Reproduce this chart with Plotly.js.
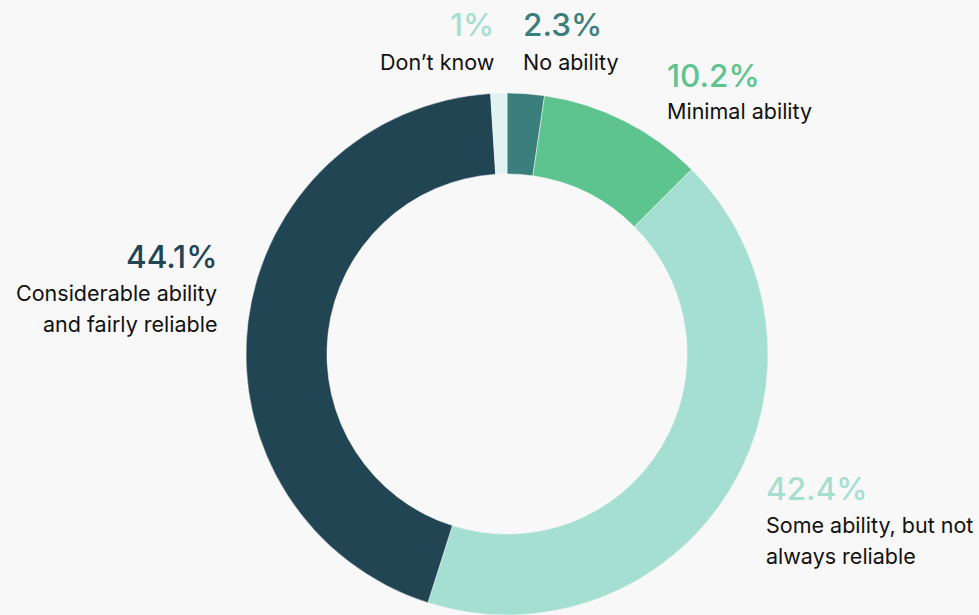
<!DOCTYPE html>
<html>
<head>
<meta charset="utf-8">
<script src="https://cdn.plot.ly/plotly-3.0.1.min.js"></script>
<style>
html,body{margin:0;padding:0;background:#f8f8f8;}
#chart{width:979px;height:615px;}
</style>
</head>
<body>
<div id="chart"></div>
<script>
const categories = ["No ability", "Minimal ability", "Some ability, but not always reliable", "Considerable ability and fairly reliable", "Don\u2019t know"];
const values = [2.3, 10.2, 42.4, 44.1, 1];
const pctLabels = ["2.3%", "10.2%", "42.4%", "44.1%", "1%"];
const labelLines = [["No ability"], ["Minimal ability"], ["Some ability, but not", "always reliable"], ["Considerable ability", "and fairly reliable"], ["Don\u2019t know"]];
const colors = ["#3b7f7c", "#5dc48f", "#a5dfd1", "#224553", "#e0f3f1"];

// label placement (paper px): x anchor, align, y of percent, y of first label line
const place = [
  {x: 521, xa: "left", yp: 24, yl: 62},
  {x: 665, xa: "left", yp: 75, yl: 111},
  {x: 764, xa: "left", yp: 488, yl: 525},
  {x: 219, xa: "right", yp: 256, yl: 293},
  {x: 496, xa: "right", yp: 24, yl: 62}
];

const W = 979, H = 615;
const annotations = [];
categories.forEach((c, i) => {
  const p = place[i];
  annotations.push({
    xref: "paper", yref: "paper", x: p.x / W, y: 1 - p.yp / H,
    xanchor: p.xa, yanchor: "middle", showarrow: false,
    text: pctLabels[i],
    font: {family: "Inter, 'Noto Sans', sans-serif", size: 31.5, weight: 500, color: colors[i] === "#e0f3f1" ? "#a6dfd2" : colors[i]}
  });
  labelLines[i].forEach((ln, j) => {
    annotations.push({
      xref: "paper", yref: "paper", x: p.x / W, y: 1 - (p.yl + j * 31) / H,
      xanchor: p.xa, yanchor: "middle", showarrow: false,
      text: ln,
      font: {family: "Inter, 'Noto Sans', sans-serif", size: 21.5, color: "#111111"}
    });
  });
});

const trace = {
  type: "pie",
  labels: categories,
  values: values,
  sort: false,
  direction: "clockwise",
  rotation: 0,
  hole: 0.69,
  textinfo: "none",
  hoverinfo: "label+percent",
  automargin: false,
  marker: {colors: colors, line: {color: "#f8f8f8", width: 0.5}},
  domain: {x: [245 / W, 769 / W], y: [0, 1 - 93 / H]}
};

Plotly.newPlot("chart", [trace], {
  width: W, height: H,
  margin: {l: 0, r: 0, t: 0, b: 0},
  paper_bgcolor: "#f8f8f8",
  plot_bgcolor: "#f8f8f8",
  showlegend: false,
  annotations: annotations
}, {displayModeBar: false, staticPlot: true});
</script>
</body>
</html>
